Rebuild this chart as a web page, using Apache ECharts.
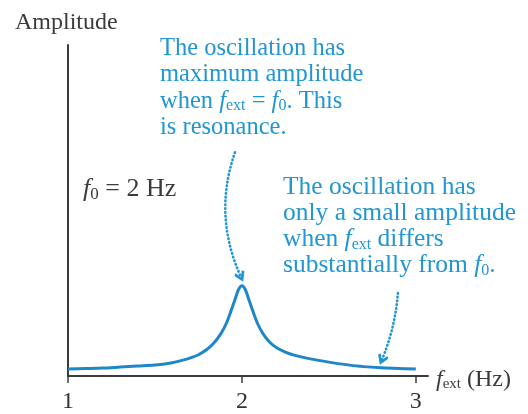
<!DOCTYPE html>
<html>
<head>
<meta charset="utf-8">
<script src="https://cdn.jsdelivr.net/npm/echarts@6/dist/echarts.min.js"></script>
<style>
  html, body { margin: 0; padding: 0; background: #fff; }
  #chart { width: 528px; height: 414px; }
</style>
</head>
<body>
<div id="chart"></div>
<script>
// Driving frequency f_ext (Hz) and the steady-state amplitude it produces (peak = 1)
const freqHz = [1.00, 1.10, 1.20, 1.30, 1.40, 1.50, 1.60, 1.65, 1.70, 1.75, 1.80, 1.84, 1.88, 1.91,
                1.94, 1.96, 1.98, 2.00, 2.02, 2.04, 2.06, 2.09, 2.12, 2.16, 2.20, 2.25, 2.30, 2.40,
                2.50, 2.60, 2.70, 2.80, 2.90, 3.00];
const amplitude = [0.077, 0.082, 0.088, 0.099, 0.110, 0.121, 0.148, 0.170, 0.198, 0.236, 0.297, 0.368, 0.473, 0.582,
                   0.736, 0.846, 0.956, 1.000, 0.956, 0.846, 0.736, 0.582, 0.473, 0.374, 0.313, 0.264, 0.231, 0.187,
                   0.154, 0.126, 0.104, 0.091, 0.084, 0.077];
const xTickValues = [1, 2, 3];

// Callout arrows: [start, end] in (f_ext, amplitude)
const resonanceArrow = [[1.960, 2.48], [1.994, 1.10]];
const offResonanceArrow = [[2.897, 0.92], [2.805, 0.18]];

const SERIF = '"Liberation Serif", "Times New Roman", serif';
const INK = '#3b3b3b';
const BLUE = '#2196d2';
const CURVE = '#1f87c9';
const FS = 24;

function richStyles(color, size, lineHeight) {
  return {
    n:   { fill: color, fontFamily: SERIF, fontSize: size, lineHeight: lineHeight },
    it:  { fill: color, fontFamily: SERIF, fontSize: size, fontStyle: 'italic', lineHeight: lineHeight },
    sub: { fill: color, fontFamily: SERIF, fontSize: Math.round(size * 0.64), lineHeight: lineHeight,
           padding: [Math.round(size * 0.42), 0, 0, 0] }
  };
}

const chart = echarts.init(document.getElementById('chart'), null, { renderer: 'canvas' });

chart.setOption({
  animation: false,
  backgroundColor: '#fff',
  grid: { left: 68, right: 100, top: 45, bottom: 35 },
  xAxis: {
    type: 'value',
    min: 1,
    max: 3.07,
    axisLine: { show: true, lineStyle: { color: INK, width: 2 } },
    axisTick: { show: true, customValues: xTickValues, length: 7, lineStyle: { color: INK, width: 1.5 } },
    axisLabel: {
      customValues: xTickValues,
      color: '#333',
      fontFamily: SERIF,
      fontSize: FS,
      margin: 14
    },
    splitLine: { show: false }
  },
  yAxis: {
    type: 'value',
    min: 0,
    max: 3.67,
    axisLine: { show: true, lineStyle: { color: INK, width: 2 } },
    axisTick: { show: false },
    axisLabel: { show: false },
    splitLine: { show: false }
  },
  series: [
    {
      type: 'line',
      data: freqHz.map((f, i) => [f, amplitude[i]]),
      smooth: 0.3,
      showSymbol: false,
      lineStyle: { color: CURVE, width: 3 },
      z: 3
    },
    {
      type: 'lines',
      coordinateSystem: 'cartesian2d',
      silent: true,
      symbol: ['none', 'path://M5,0 L10,7 L8.2,8.6 L5,4.2 L1.8,8.6 L0,7 Z'],
      symbolSize: [12, 11],
      lineStyle: { color: BLUE, width: 2.6, type: [0.6, 3.2], cap: 'round', opacity: 1 },
      data: [
        { coords: resonanceArrow, lineStyle: { curveness: -0.2 } },
        { coords: offResonanceArrow, lineStyle: { curveness: 0.08 } }
      ],
      z: 4
    }
  ],
  graphic: [
    {
      type: 'text', x: 15, y: 11,
      style: { text: 'Amplitude', fill: INK, font: FS + 'px ' + SERIF, align: 'left', verticalAlign: 'top' }
    },
    {
      type: 'text', x: 160, y: 35,
      style: {
        text: '{n|The oscillation has}\n{n|maximum amplitude}\n{n|when }{it|f}{sub|ext}{n| = }{it|f}{sub|0}{n|. This}\n{n|is resonance.}',
        rich: richStyles(BLUE, 24.5, 26.5), align: 'left', verticalAlign: 'top'
      }
    },
    {
      type: 'text', x: 283, y: 174,
      style: {
        text: '{n|The oscillation has}\n{n|only a small amplitude}\n{n|when }{it|f}{sub|ext}{n| differs}\n{n|substantially from }{it|f}{sub|0}{n|.}',
        rich: richStyles(BLUE, 25.5, 26), align: 'left', verticalAlign: 'top'
      }
    },
    {
      type: 'text', x: 83, y: 176,
      style: {
        text: '{it|f}{sub|0}{n| = 2 Hz}',
        rich: richStyles(INK, 26, 26), align: 'left', verticalAlign: 'top'
      }
    },
    {
      type: 'text', x: 436, y: 367,
      style: {
        text: '{it|f}{sub|ext}{n| (Hz)}',
        rich: richStyles(INK, 24, 25), align: 'left', verticalAlign: 'top'
      }
    }
  ]
});
</script>
</body>
</html>
